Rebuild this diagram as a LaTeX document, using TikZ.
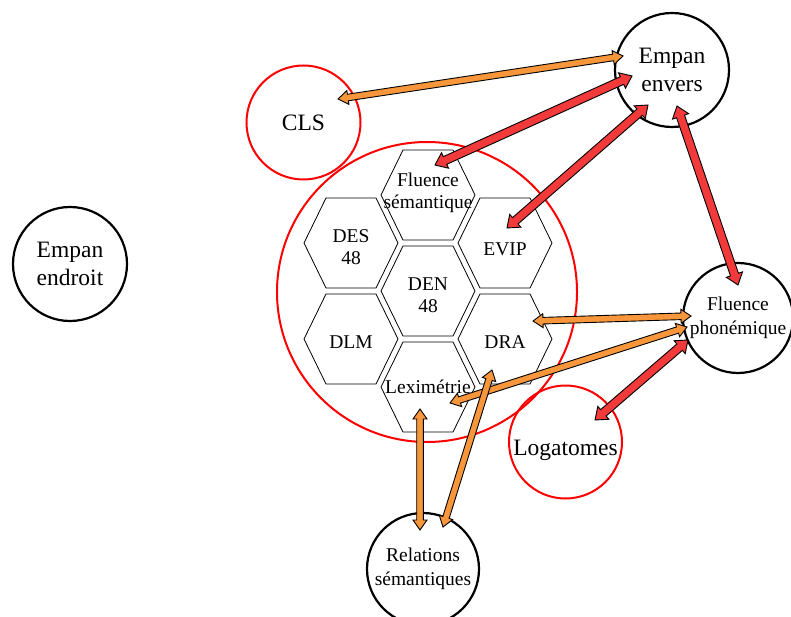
\documentclass[tikz,border=0pt]{standalone}
\usepackage{fontspec}
\setmainfont{Liberation Serif}
\usetikzlibrary{calc}
\definecolor{arrOrange}{RGB}{247,150,58}
\definecolor{arrRed}{RGB}{242,58,58}
\definecolor{ringRed}{RGB}{255,0,0}
\newcommand\bigfont{\fontsize{23.5}{27.5}\selectfont}
\newcommand\smallfont{\fontsize{19.5}{24}\selectfont}
\newcommand\hexfont{\fontsize{19.5}{22.5}\selectfont}
% double-headed block arrow: #1 end A, #2 end B, #3 fill, #4 head length, #5 head half width, #6 shaft half width
\newcommand\blockarrow[6]{%
  \filldraw[fill=#3,draw=black,line width=0.9pt,line join=miter]
  (#1) -- ($(#1)!#4!(#2)!#5!90:(#2)$) -- ($(#1)!#4!(#2)!#6!90:(#2)$)
  -- ($(#2)!#4!(#1)!#6!-90:(#1)$) -- ($(#2)!#4!(#1)!#5!-90:(#1)$)
  -- (#2) -- ($(#2)!#4!(#1)!#5!90:(#1)$) -- ($(#2)!#4!(#1)!#6!90:(#1)$)
  -- ($(#1)!#4!(#2)!#6!-90:(#2)$) -- ($(#1)!#4!(#2)!#5!-90:(#2)$) -- cycle;}
\newcommand\orangearrow[2]{\blockarrow{#1}{#2}{arrOrange}{10pt}{7pt}{3.3pt}}
\newcommand\redarrow[2]{\blockarrow{#1}{#2}{arrRed}{11pt}{8.5pt}{4.2pt}}
\begin{document}
\begin{tikzpicture}[x=1pt,y=-1pt,
  blackring/.style={circle,draw=black,line width=2.2pt,inner sep=0pt,align=center,font=\bigfont},
  redring/.style={circle,draw=ringRed,line width=2pt,inner sep=0pt,align=center,font=\bigfont},
  hexlabel/.style={inner sep=0pt,align=center,font=\hexfont},
  pics/hexcell/.style={code={\draw[line width=0.8pt,line join=miter]
      (-47,0) -- (-25,-45) -- (25,-45) -- (47,0) -- (25,45) -- (-25,45) -- cycle;}}]
\useasboundingbox (0,0) rectangle (791,617);

% rings
\node[redring,minimum size=300pt] (core) at (427,292) {};
\node[redring,minimum size=114pt] (cls) at (303.5,122.5) {CLS};
\node[redring,minimum size=113pt,text height=26pt,text depth=0pt] (logat) at (565.5,442) {Logatomes};
\node[blackring,minimum size=114pt] (endroit) at (70,264) {Empan\\endroit};
\node[blackring,minimum size=114pt] (envers) at (672,70) {Empan\\envers};
\node[blackring,minimum size=110pt,font=\smallfont] (fphon) at (738,318) {Fluence\\phonémique};
\node[blackring,minimum size=112pt,font=\smallfont] (relsem) at (423,569) {Relations\\sémantiques};

% hexagon cluster
\pic at (428,195) {hexcell};
\pic at (428,291) {hexcell};
\pic at (428,387) {hexcell};
\pic at (351,243) {hexcell};
\pic at (351,339) {hexcell};
\pic at (505,243) {hexcell};
\pic at (505,339) {hexcell};
\node[hexlabel] (fsem) at (428,193) {Fluence\\sémantique};
\node[hexlabel] (den) at (428,295) {DEN\\48};
\node[hexlabel] (lexi) at (428,386.5) {Leximétrie};
\node[hexlabel] (des) at (351,247) {DES\\48};
\node[hexlabel] (dlm) at (351,342) {DLM};
\node[hexlabel] (evip) at (505,249.5) {EVIP};
\node[hexlabel] (dra) at (505,342) {DRA};

% arrow end points
\coordinate (cls-a) at (338,99);   \coordinate (envers-a) at (623,56);
\coordinate (fsem-a) at (435,165); \coordinate (envers-b) at (632,76);
\coordinate (evip-a) at (507,228); \coordinate (envers-c) at (648,105);
\coordinate (envers-d) at (677,106); \coordinate (fphon-a) at (738,285);
\coordinate (dra-a) at (533,321);  \coordinate (fphon-b) at (691,316);
\coordinate (lexi-a) at (450,403); \coordinate (fphon-c) at (687,327);
\coordinate (logat-a) at (595,420); \coordinate (fphon-d) at (688,340);
\coordinate (lexi-b) at (420,409); \coordinate (relsem-a) at (420,530);
\coordinate (dra-b) at (492,370);  \coordinate (relsem-b) at (443,527);

% connectors
\orangearrow{cls-a}{envers-a}
\redarrow{fsem-a}{envers-b}
\redarrow{evip-a}{envers-c}
\redarrow{envers-d}{fphon-a}
\orangearrow{dra-a}{fphon-b}
\orangearrow{lexi-a}{fphon-c}
\redarrow{logat-a}{fphon-d}
\orangearrow{lexi-b}{relsem-a}
\orangearrow{dra-b}{relsem-b}
\end{tikzpicture}
\end{document}
